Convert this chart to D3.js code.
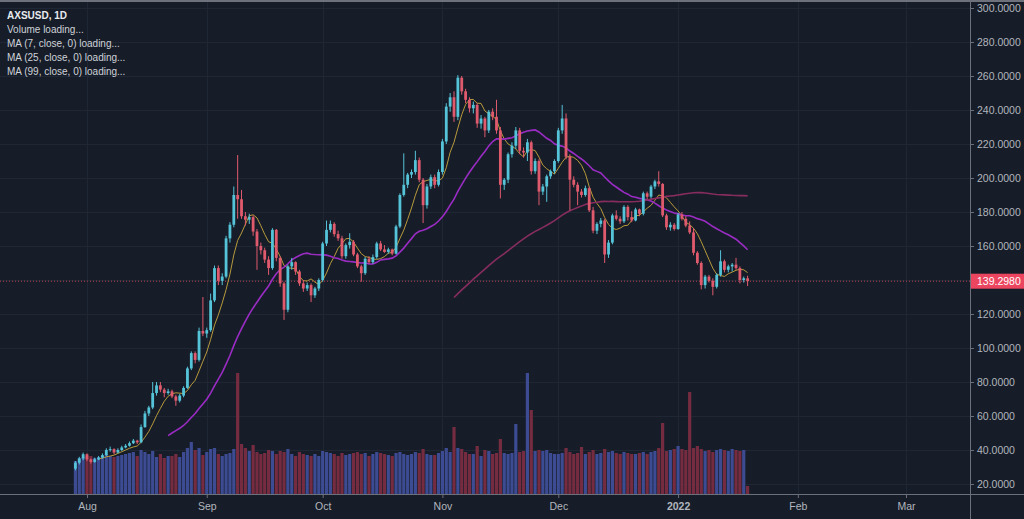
<!DOCTYPE html>
<html><head><meta charset="utf-8">
<script src="https://cdn.jsdelivr.net/npm/d3@7"></script>
<style>html,body{margin:0;padding:0;background:#161d28;overflow:hidden}svg{display:block}</style>
</head><body><svg id="c" width="1024" height="519"></svg>
<script>
// ---- data ----
const symbolTitle = "AXSUSD, 1D";
const legendLines = ["Volume loading...", "MA (7, close, 0) loading...", "MA (25, close, 0) loading...", "MA (99, close, 0) loading..."];
const firstDay = "2021-07-29";
const lastDay = "2022-01-19";
const opens = [29,32.5,35,37.5,34.5,33,34.5,35.5,37,40,40.5,38.5,40,41.5,42.5,44,45.5,44.5,53.5,61.5,
65,73.5,78,75.5,73.5,74.5,71.5,69,72,76.5,88,97,93,110,108.5,110.5,128,147,139.5,142,
164.5,172.5,190,187.5,177.5,175.5,177,168.5,160,157.5,152,147,169.5,153,138,122.5,148,150.5,145,138,
135,137,131,135,140,161.5,169.5,173,167,164.5,154,160.5,162.5,155,148,144,152.5,150.5,153.5,161.5,
158,156.5,158,155.5,171.5,190,196,202,203.5,210.5,199,184,195,200.5,196,203.5,221.5,242,247.5,236,
259,251,246,241,243,232,235,228,239,236,228,196,199,214,219,228,216,215,221,204,
210,192,195,201,204,210,228,235,212.5,199,196,192,190,194,181,169,173,175,155,162,
178,176,174.5,183,177,175,181.5,179,191,189,195,198,196.5,178,171,172.5,170,178.5,176,172,
168,156,150,137,142,139.5,136,143,151,146,148,149,147,140,141];
const highs = [33.5,36,38.5,38,35,35.5,36.5,38,41,42,41,41,42.5,43.5,45,46.5,46,55,63,66,
80,80,80,76.5,76,75.5,72.5,73,77.5,89,98,98,112,130,112,132,148.5,148.5,144,166,
174,195,213.5,193,180,179,178,170,162,159,154,170.5,170,154,139,149,153,151,146,140,
138.5,138,136,141,162.5,175,175,174,169,166,161.5,167.5,163.5,156,149,153.5,154,155,162.5,163,
160.5,159,158.5,172.5,191,214.5,203,205,216,212,200,196.5,202,202,205,223,244,250,251,260.5,
260,252.5,247.5,245,244,237,236,240,241,246,230,200,215,221,230,229.5,218,223,222,211.5,
211,196.5,202,205,211,229.5,243,238,214,201,197.5,193.5,195.5,195,183,174,176.5,176,163.5,179,
181,177.5,184,184,180.5,182.5,182,192,192,196,199,204,197,179,174,173.5,179.5,180,177.5,174.5,
170.5,157,151,143,143,141,144,157.5,152,149,150,153,148,142,142.5];
const lows = [28,31.5,34,33.5,32,32.5,34,35,36.5,39,37.5,38,39.5,41,42,43.5,43.5,44,53,60,
64,72,74,71,72.5,70.5,66,68,71,76,87,91,92,107,106,109.5,127,137,137,141,
162,171,176,176,172,173,166,146,155,150,143,146,151,136,116.5,121,146,143,136.5,133,
133.5,127,129.5,133.5,139,160,168,165.5,163,152.5,152.5,158.5,154,147,139,143,149.5,149.5,152.5,157,
156,155.5,154.5,155,170.5,189,194,200,202,197.5,173.5,182,193.5,194,195,202,220,239,233,234,
249,244,238.5,238,229.5,229,224,226.5,234,226,188,193,197,212,217,214,212,210,202,202.5,
184,190,186,199.5,202.5,209,226,211,181,194.5,184,188.5,189,180,167.5,167,171,150,153,161,
175,173,173.5,175,174,174.5,177.5,178,187.5,188,193.5,195,177,169.5,169,169,169.5,175,171,167,
154.5,149,134.5,135,138.5,131,135,142,144.5,144.5,145,146,138,138.5,136.5];
const closes = [32.5,35,37.5,34.5,33,34.5,35.5,37,40,40.5,38.5,40,41.5,42.5,44,45.5,44.5,53.5,61.5,65,
73.5,78,75.5,73.5,74.5,71.5,69,72,76.5,88,97,93,110,108.5,110.5,128,147,139.5,142,164.5,
172.5,190,187.5,177.5,175.5,177,168.5,160,157.5,152,147,169.5,153,138,122.5,148,150.5,145,138,135,
137,131,135,140,161.5,169.5,173,167,164.5,154,160.5,162.5,155,148,144,152.5,150.5,153.5,161.5,158,
156.5,158,155.5,171.5,190,196,202,203.5,210.5,199,184,195,200.5,196,203.5,221.5,242,247.5,236,259,
251,246,241,243,232,235,228,239,236,228,196,199,214,219,228,216,215,221,204,210,
192,195,201,204,210,228,235,212.5,199,196,192,190,194,181,169,173,175,155,162,178,
176,174.5,183,177,175,181.5,179,191,189,195,198,196.5,178,171,172.5,170,178.5,176,172,168,
156,150,137,142,139.5,136,143,151,146,148,149,147,140,141,139.298];
const volumes = [33,36,37,38,38,36,37,38,40,38,37,38,39,40,41,42,38,44,42,40,
43,37,40,36,38,38,40,37,42,46,52,44,46,39,42,45,46,40,38,40,
41,45,121,50,46,43,49,42,40,41,44,43,40,43,42,45,40,38,42,40,
39,38,40,38,43,42,41,40,38,41,39,40,41,42,40,41,38,40,42,41,
40,39,38,41,42,40,39,40,42,41,45,40,39,39,41,43,46,42,67,46,
45,42,40,40,48,38,44,43,40,41,55,41,40,41,70,42,43,121,84,43,
44,43,44,41,40,40,41,46,42,40,41,47,40,42,44,40,41,45,42,43,
41,40,42,41,40,40,41,42,40,42,43,46,71,43,44,45,48,45,44,102,
46,48,45,43,44,42,44,45,44,43,45,44,43,44,8];
const priceTicks = [20,40,60,80,100,120,140,160,180,200,220,240,260,280,300];
const monthTicks = ["2021-08-01","2021-09-01","2021-10-01","2021-11-01","2021-12-01","2022-01-01","2022-02-01","2022-03-01"];
const maPeriods = [7, 25, 99];
const maColors = ["#b89a3c", "#9a2cc4", "#862c5e"];

// ---- layout ----
const W = 1024, H = 519, plotR = 970, plotB = 494;
const parse = d3.utcParse("%Y-%m-%d");
const dates = d3.utcDays(parse(firstDay), d3.utcDay.offset(parse(lastDay), 1));
const data = dates.map((d, i) => ({date: d, o: opens[i], h: highs[i], l: lows[i], c: closes[i], v: volumes[i]}));
const lastPrice = closes[closes.length - 1];

const x = d3.scaleUtc().domain([parse("2021-08-01"), parse("2022-03-01")]).range([87, 906]);
const y = d3.scaleLinear().domain([20, 300]).range([484, 8]);
const yv = d3.scaleLinear().domain([0, 130]).range([plotB, plotB - 130]);

const svg = d3.select("#c");
const UP = "#55c3d8", DOWN = "#e05a6d";
const AX = "#b2b5be";
svg.append("rect").attr("width", W).attr("height", H).attr("fill", "#161d28");

svg.append("defs").append("clipPath").attr("id", "pc")
  .append("rect").attr("x", 0).attr("y", 0).attr("width", plotR).attr("height", plotB);

// grid
const grid = svg.append("g");
grid.selectAll("line.h").data(priceTicks).join("line")
  .attr("x1", 0).attr("x2", plotR).attr("y1", d => Math.round(y(d)) + 0.5).attr("y2", d => Math.round(y(d)) + 0.5)
  .attr("stroke", "#1f2734").attr("stroke-width", 1);
grid.selectAll("line.v").data(monthTicks.map(parse)).join("line")
  .attr("x1", d => Math.round(x(d)) + 0.5).attr("x2", d => Math.round(x(d)) + 0.5).attr("y1", 0).attr("y2", plotB)
  .attr("stroke", "#1f2734").attr("stroke-width", 1);

const plot = svg.append("g").attr("clip-path", "url(#pc)");

// volume
plot.append("g").selectAll("rect").data(data).join("rect")
  .attr("x", d => x(d.date) - 1.6).attr("width", 3.2)
  .attr("y", d => yv(d.v)).attr("height", d => plotB - yv(d.v))
  .attr("fill", d => d.c >= d.o ? "#3c4b92" : "#762c40");

// price line
plot.append("line").attr("x1", 0).attr("x2", plotR)
  .attr("y1", y(lastPrice)).attr("y2", y(lastPrice))
  .attr("stroke", "#d9485c").attr("stroke-width", 1).attr("stroke-dasharray", "1,2").attr("opacity", 0.85);

// moving averages
function sma(n) {
  return closes.map((c, i) => i < n - 1 ? null : d3.mean(closes.slice(i - n + 1, i + 1)));
}
maPeriods.forEach((n, k) => {
  const vals = sma(n);
  const line = d3.line().defined(d => d != null).x((d, i) => x(dates[i])).y(d => y(d));
  plot.append("path").datum(vals).attr("d", line).attr("fill", "none")
    .attr("stroke", maColors[k]).attr("stroke-width", k === 0 ? 1 : 1.6);
});

// candles
const cg = plot.append("g").selectAll("g").data(data).join("g");
cg.append("line").attr("x1", d => x(d.date)).attr("x2", d => x(d.date))
  .attr("y1", d => y(d.h)).attr("y2", d => y(d.l))
  .attr("stroke", d => d.c >= d.o ? UP : DOWN).attr("stroke-width", 1);
cg.append("rect").attr("x", d => x(d.date) - 1.4).attr("width", 2.8)
  .attr("y", d => y(Math.max(d.o, d.c)))
  .attr("height", d => Math.max(1, Math.abs(y(d.o) - y(d.c))))
  .attr("fill", d => d.c >= d.o ? UP : DOWN);

// frame lines
svg.append("line").attr("x1", 0).attr("x2", W).attr("y1", 1).attr("y2", 1).attr("stroke", "#8a8e98").attr("stroke-width", 1.5);
svg.append("line").attr("x1", plotR + 0.5).attr("x2", plotR + 0.5).attr("y1", 0).attr("y2", H).attr("stroke", "#6b707b");
svg.append("line").attr("x1", 0).attr("x2", W).attr("y1", plotB + 0.5).attr("y2", plotB + 0.5).attr("stroke", "#6b707b");

// right axis
const ra = svg.append("g").attr("transform", `translate(${plotR},0)`)
  .call(d3.axisRight(y).tickValues(priceTicks).tickFormat(d => d.toFixed(4)).tickSize(4).tickPadding(3));
ra.select(".domain").remove();
ra.selectAll("line").attr("stroke", "#6b707b");
ra.selectAll("text").attr("fill", AX).style("font", "10.5px 'Liberation Sans', Arial, sans-serif");

// last price label
const ly = y(lastPrice);
svg.append("rect").attr("x", plotR + 1).attr("y", ly - 7.5).attr("width", W - plotR - 1).attr("height", 15).attr("fill", "#ec4560");
svg.append("text").attr("x", plotR + 7).attr("y", ly).attr("dy", "0.35em")
  .attr("fill", "#ffffff").style("font", "10.5px 'Liberation Sans', Arial, sans-serif")
  .text(lastPrice.toFixed(4));

// bottom axis
const ba = svg.append("g").attr("transform", `translate(0,${plotB})`)
  .call(d3.axisBottom(x).tickValues(monthTicks.map(parse))
    .tickFormat(d => d.getUTCMonth() === 0 ? String(d.getUTCFullYear()) : d3.utcFormat("%b")(d))
    .tickSize(4).tickPadding(5));
ba.select(".domain").remove();
ba.selectAll("line").attr("stroke", "#6b707b");
ba.selectAll("text").attr("fill", AX).style("font", "10.5px 'Liberation Sans', Arial, sans-serif")
  .style("font-weight", d => d.getUTCMonth() === 0 ? "bold" : "normal");

// legend
const lg = svg.append("g").style("font", "10px 'Liberation Sans', Arial, sans-serif");
lg.append("text").attr("x", 7).attr("y", 19).attr("fill", "#e8eaef").style("font-weight", "bold").text(symbolTitle);
lg.selectAll("text.l").data(legendLines).join("text").attr("class", "l")
  .attr("x", 7).attr("y", (d, i) => 33 + i * 14).attr("fill", "#cfd2d9").text(d => d);
</script>
</body></html>
